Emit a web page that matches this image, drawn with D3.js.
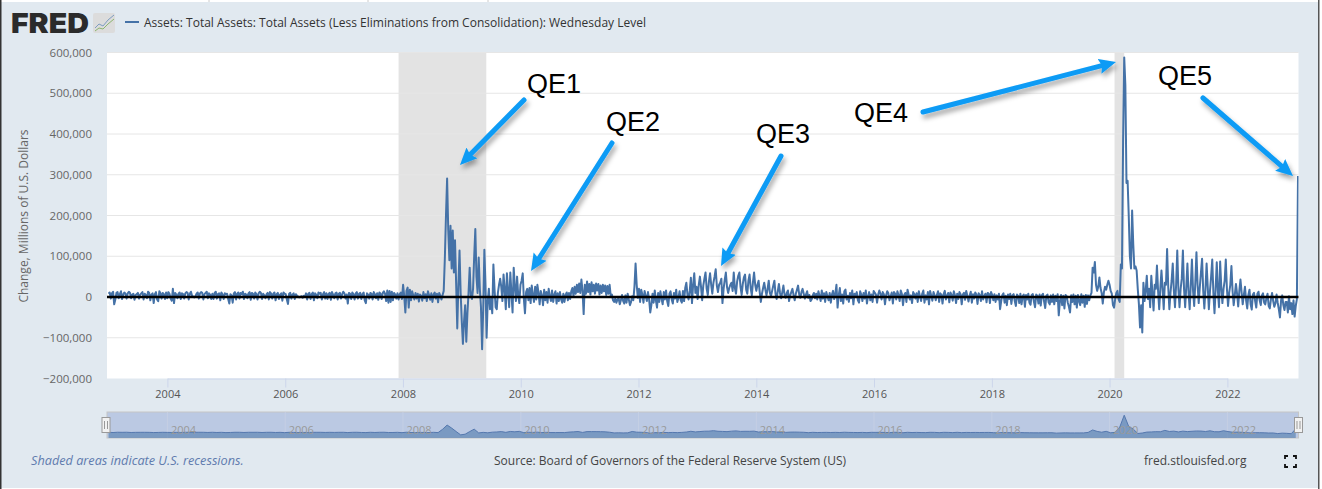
<!DOCTYPE html>
<html>
<head>
<meta charset="utf-8">
<script src="https://cdn.jsdelivr.net/npm/d3@7"></script>
<style>
html, body { margin: 0; padding: 0; background: #fff; overflow: hidden; }
text { font-family: "Open Sans", sans-serif; }
</style>
</head>
<body>
<div id="chart"></div>
<script>
// weekly change, billions of dollars
var w2003 = [8,11,-4,9,13,-18,-6,10,12,-3,7,14,-5,6,11,8,-4,9,13,10,-3,6,8,-7,5,7,10,-4,6,9,12,-6,8,5,-3,13,10,-8,6,9,-15,7,12,-6,-10,14,9,-4,10,7,-5,11,-3];
var w2004 = [12,8,-4,-9,20,-15,10,6,-3,8,11,-5,9,7,-4,9,12,10,-6,8,13,3,1,-1,2,8,11,-4,9,12,10,-6,7,10,13,-3,9,6,-5,8,-5,10,13,-4,7,9,-8,11,6,-5,9,7];
var w2005 = [8,-5,-16,7,4,-14,9,12,-6,8,11,-4,10,7,13,-5,8,6,-3,9,12,-7,10,8,-4,11,7,-6,9,13,10,-5,8,4,-3,7,10,-6,12,9,-4,8,11,-8,7,10,-5,6,9,-9,11,8];
var w2006 = [7,-6,-17,8,10,-4,6,9,-5,7,3,1,-1,0,2,-2,3,1,9,-6,8,10,-5,7,11,-8,9,6,-3,11,8,10,-6,7,12,-4,9,-5,8,10,-7,12,6,-3,9,11,-6,8,10,-4,7,13];
var w2007 = [9,-4,6,-16,10,8,-5,11,7,-6,9,12,-4,8,10,-5,7,11,-8,-15,9,6,-4,10,8,-6,12,7,-3,9,-7,11,8,-5,10,14,8,-10,16,-14,15,-12,13,-8,10,6,-4,9,-6,7,11,-5];
var w2008 = [30,2,-38,15,23,-26,18,-8,14,4,-6,10,-4,8,-11,6,3,-9,12,-3,7,-10,14,5,-7,9,-12,6,11,-4,8,-13,10,3,-6,5,15,95,200,291,165,90,175,70,163,60,139,33,-77,30,114,10,-60];
var w2009 = [-115,-60,-20,-110,-40,10,72,5,-5,20,100,167,50,10,97,20,-25,-128,-30,116,30,-100,-10,20,-30,-5,-40,80,20,-25,-30,10,30,45,25,-10,55,20,-30,58,15,-25,60,10,-38,72,25,-10,50,5,-15,30];
var w2010 = [40,58,-5,-40,12,20,-8,22,-15,28,5,-12,25,-6,30,10,-18,15,4,-20,18,-8,12,-14,20,2,-10,16,-12,6,14,-16,9,-10,12,-6,-14,8,-12,5,11,-8,10,-5,14,22,2,25,8,30,12,33];
var w2011 = [10,43,15,-42,30,8,38,12,32,6,36,14,30,8,33,16,32,6,28,10,30,14,28,5,27,8,30,2,6,-8,-12,-4,-14,-6,-3,-18,-8,5,-10,-16,4,-14,8,-6,-20,-12,2,-8,25,82,30,-2];
var w2012 = [20,-12,18,6,-14,15,2,-10,12,-6,-38,-20,8,-14,16,-8,-26,10,-12,14,-4,-18,12,-6,16,-10,-22,8,14,-6,-16,10,-4,18,-12,-2,14,-8,-14,15,-10,22,35,5,-6,15,47,-15,30,58,10,25];
var w2013 = [-5,30,50,25,-8,28,45,60,20,5,38,58,30,8,35,50,68,28,12,30,35,45,-15,20,42,60,25,10,22,30,35,15,60,22,8,38,52,60,25,5,32,48,55,18,8,40,55,22,4,36,60,30];
var w2014 = [15,30,40,12,-12,8,22,35,18,4,20,40,10,2,15,28,40,8,-5,14,32,10,-3,12,28,6,-2,10,16,-10,4,12,20,5,-8,8,18,28,6,-2,12,20,8,-4,6,14,-2,5,-10,-6,4,10,-3];
var w2015 = [8,-6,14,3,-10,16,-4,9,-12,12,2,-8,10,-14,6,15,-5,8,30,-26,4,22,-10,6,-16,14,18,-6,3,-12,10,-3,16,-18,8,4,12,-8,-14,14,6,-10,10,-4,16,-16,2,12,-8,6,-12,15];
var w2016 = [10,6,-14,6,16,8,-6,12,7,-18,4,14,9,-8,2,11,-16,12,8,-6,14,5,-10,16,7,-20,5,10,-12,18,6,-6,4,-15,12,7,-4,9,-12,14,2,-10,8,16,-14,4,-6,12,-18,15,3,-9];
var w2017 = [12,4,-8,5,14,-12,9,6,-16,7,15,-6,3,10,-13,11,5,-9,14,4,-15,8,-5,12,7,-18,6,10,-7,15,3,-11,3,13,-14,7,-4,11,6,-17,9,5,-10,14,-6,2,8,-13,10,8,-15,12];
var w2018 = [5,-8,7,-12,4,-6,8,-30,-10,5,9,-14,3,-20,6,-5,8,-17,4,7,-10,-22,6,2,-15,8,-18,2,6,-24,5,-6,8,-14,-19,5,7,-12,-25,6,3,-16,6,-21,4,8,-11,-27,3,6,-13,-18];
var w2019 = [4,-12,6,-18,3,-10,7,-45,-10,5,-20,3,-28,5,2,-14,-24,-38,4,-12,6,-18,3,-26,5,-10,-20,7,-14,3,-24,5,-17,4,-8,4,10,72,60,86,30,15,25,48,22,10,-16,12,25,18,30,40];
var w2020 = [30,15,8,-20,-26,-5,10,15,-5,-12,80,70,380,588,520,280,285,200,100,70,212,130,70,75,65,20,-17,-75,-20,-87,35,-10,15,52,-5,20,-25,52,10,-33,30,20,77,15,-30,20,65,20,-30,35,30,118,25];
var w2021 = [-30,10,40,82,15,-25,30,114,20,-25,20,45,114,20,-25,25,82,10,-30,30,92,15,-22,35,110,30,-15,25,60,94,15,-28,20,82,25,-30,15,50,92,10,-40,20,85,15,-25,87,25,-15,20,40,92,20];
var w2022 = [-22,10,30,76,15,-20,5,32,8,-23,15,43,12,-18,5,25,-8,-28,5,18,-18,-31,6,10,-10,-26,8,13,-8,-20,4,9,-14,-18,-2,8,-22,-28,-6,10,-10,-24,-15,6,-14,-30,-50,-8,4,-20,-32,-12];
var w2023 = [-12,-38,2,-30,-15,-42,-8,-48,-22,-5,297];

var years = [2003,2004,2005,2006,2007,2008,2009,2010,2011,2012,2013,2014,2015,2016,2017,2018,2019,2020,2021,2022,2023];
var yearValues = [w2003,w2004,w2005,w2006,w2007,w2008,w2009,w2010,w2011,w2012,w2013,w2014,w2015,w2016,w2017,w2018,w2019,w2020,w2021,w2022,w2023];

var yTicks = [-200000,-100000,0,100000,200000,300000,400000,500000,600000];
var xTickYears = [2004,2006,2008,2010,2012,2014,2016,2018,2020,2022];
var recessions = [["2007-12-05","2009-06-01"],["2020-02-01","2020-04-01"]];
var labels = ["QE1","QE2","QE3","QE4","QE5"];

var parseDay = d3.timeParse("%Y-%m-%d");

// every year starts on its first wednesday
var data = [];
years.forEach(function(y, n){
  var first = d3.timeWednesday.ceil(new Date(y, 0, 1));
  yearValues[n].forEach(function(v, i){
    data.push({date: d3.timeWednesday.offset(first, i), value: v * 1000});
  });
});

var width = 1322, height = 489;
var left = 107, right = 1298.5, top_ = 52.5, bottom = 378.5;

var x = d3.scaleTime()
  .domain([new Date(2004,0,1), new Date(2022,0,1)])
  .range([167.4, 1227.4]);
var y = d3.scaleLinear().domain([-200000,600000]).range([bottom, top_]);

var svg = d3.select("#chart").append("svg")
  .attr("width", width)
  .attr("height", height)
  .style("display", "block");

var defs = svg.append("defs");
defs.append("clipPath").attr("id", "plot")
  .append("rect").attr("x", left).attr("y", top_ - 1).attr("width", right - left).attr("height", bottom - top_ + 1);
defs.append("clipPath").attr("id", "nav")
  .append("rect").attr("x", left).attr("y", 412).attr("width", right - left).attr("height", 26);
var shadow = defs.append("filter").attr("id", "shadow")
  .attr("x", "-30%").attr("y", "-30%").attr("width", "160%").attr("height", "160%");
shadow.append("feDropShadow").attr("dx", 2).attr("dy", 4).attr("stdDeviation", 2.5)
  .attr("flood-color", "#000").attr("flood-opacity", 0.35);
var head = defs.append("marker").attr("id", "head")
  .attr("viewBox", "0 0 10 10").attr("refX", 2).attr("refY", 5)
  .attr("markerUnits", "userSpaceOnUse").attr("markerWidth", 17).attr("markerHeight", 17)
  .attr("orient", "auto");
head.append("path").attr("d", "M0,0.5L10,5L0,9.5L1.5,5Z").attr("fill", "#0a9bf5");

// page frame
svg.append("rect").attr("x", 1).attr("y", 2).attr("width", 1317).attr("height", 486).attr("fill", "#e1e9f0");
svg.append("rect").attr("x", 0).attr("y", 0).attr("width", 1.5).attr("height", height).attr("fill", "#333");
svg.append("rect").attr("x", 1318).attr("y", 0).attr("width", 1.5).attr("height", height).attr("fill", "#555");
[209,368,488].forEach(function(px){
  svg.append("line").attr("x1", px).attr("x2", px).attr("y1", 0).attr("y2", 2).attr("stroke", "#ccc");
});

// logo
svg.append("text").attr("x", 11).attr("y", 33)
  .attr("textLength", 78).attr("lengthAdjust", "spacingAndGlyphs")
  .style("font-family", "Inter").style("font-weight", 900).style("font-size", "27.5px")
  .attr("fill", "#2b2b2b").text("FRED");
svg.append("rect").attr("x", 93).attr("y", 13).attr("width", 22).attr("height", 20).attr("rx", 2).attr("fill", "#dcdcdc");
svg.append("path").attr("d", "M95,28L99,24L103,26L108,20L114,15").attr("fill", "none").attr("stroke", "#7d9cc0").attr("stroke-width", 1);
svg.append("path").attr("d", "M95,31L99,28L103,29L108,24L114,19").attr("fill", "none").attr("stroke", "#8cb56f").attr("stroke-width", 1);

// legend
svg.append("line").attr("x1", 125).attr("x2", 139).attr("y1", 22).attr("y2", 22).attr("stroke", "#4572a7").attr("stroke-width", 2);
svg.append("text").attr("x", 144).attr("y", 26.5)
  .attr("textLength", 502).attr("lengthAdjust", "spacingAndGlyphs")
  .style("font-size", "12.5px").attr("fill", "#333")
  .text("Assets: Total Assets: Total Assets (Less Eliminations from Consolidation): Wednesday Level");

// plot background and recessions
svg.append("rect").attr("x", left).attr("y", top_).attr("width", right - left).attr("height", bottom - top_).attr("fill", "#fff");
svg.append("g").attr("clip-path", "url(#plot)").selectAll("rect").data(recessions).enter().append("rect")
  .attr("x", function(d){ return x(parseDay(d[0])); })
  .attr("width", function(d){ return x(parseDay(d[1])) - x(parseDay(d[0])); })
  .attr("y", top_).attr("height", bottom - top_)
  .attr("fill", "#e3e3e3");

// grid
svg.append("g").selectAll("line").data(yTicks.slice(1)).enter().append("line")
  .attr("x1", left).attr("x2", right)
  .attr("y1", function(d){ return y(d); }).attr("y2", function(d){ return y(d); })
  .attr("stroke", "#e6e6e6");

// axes
var yAxis = svg.append("g").attr("transform", "translate(96,0)")
  .call(d3.axisLeft(y).tickValues(yTicks).tickFormat(d3.format(",")).tickSize(0).tickPadding(4));
yAxis.select(".domain").remove();
yAxis.selectAll("text").style("font-size", "11.5px").style("font-family", "Open Sans").attr("fill", "#666");

var xAxis = svg.append("g").attr("transform", "translate(0," + bottom + ")")
  .call(d3.axisBottom(x).tickValues(xTickYears.map(function(d){ return new Date(d,0,1); }))
    .tickFormat(d3.timeFormat("%Y")).tickSize(9).tickPadding(3).tickSizeOuter(0));
xAxis.select(".domain").attr("stroke", "#ccd6eb");
xAxis.selectAll(".tick line").attr("stroke", "#ccd6eb");
xAxis.selectAll("text").style("font-size", "11px").style("font-family", "Open Sans").attr("fill", "#555");

svg.append("text")
  .attr("transform", "translate(28,216) rotate(-90)")
  .attr("text-anchor", "middle")
  .style("font-size", "12px").attr("fill", "#666")
  .text("Change, Millions of U.S. Dollars");

// series
var line = d3.line().x(function(d){ return x(d.date); }).y(function(d){ return y(d.value); });
svg.append("path").datum(data)
  .attr("clip-path", "url(#plot)")
  .attr("d", line)
  .attr("fill", "none")
  .attr("stroke", "#4572a7")
  .attr("stroke-width", 2)
  .attr("stroke-linejoin", "round");

// zero line
svg.append("line").attr("x1", left).attr("x2", right).attr("y1", y(0)).attr("y2", y(0))
  .attr("stroke", "#000").attr("stroke-width", 2.5);

// navigator, data grouped per 4 weeks
var grouped = d3.range(0, data.length, 4).map(function(i){
  var part = data.slice(i, i + 4);
  return {date: part[0].date, value: d3.mean(part, function(d){ return d.value; })};
});
var navY = d3.scaleLinear().domain([-120000, 460000]).range([437.5, 413.5]);
var nav = svg.append("g");
nav.append("rect").attr("x", left).attr("y", 412).attr("width", right - left).attr("height", 26)
  .attr("fill", "#bbc9e3").attr("stroke", "#c6c6c6");
var navG = nav.append("g").attr("clip-path", "url(#nav)");
navG.selectAll("line").data(xTickYears).enter().append("line")
  .attr("x1", function(d){ return x(new Date(d,0,1)); })
  .attr("x2", function(d){ return x(new Date(d,0,1)); })
  .attr("y1", 412).attr("y2", 438)
  .attr("stroke", "#c5cfe4");
navG.append("path").datum(grouped)
  .attr("d", d3.area().x(function(d){ return x(d.date); }).y0(438).y1(function(d){ return navY(d.value); }))
  .attr("fill", "#4572a7").attr("fill-opacity", 0.55);
navG.append("path").datum(grouped)
  .attr("d", d3.line().x(function(d){ return x(d.date); }).y(function(d){ return navY(d.value); }))
  .attr("fill", "none").attr("stroke", "#5578ae").attr("stroke-width", 1);
nav.selectAll("text").data(xTickYears).enter().append("text")
  .attr("x", function(d){ return x(new Date(d,0,1)) + 3.5; })
  .attr("y", 434)
  .style("font-size", "11px").attr("fill", "#999")
  .text(function(d){ return d; });
[left - 1, right].forEach(function(px){
  var h = nav.append("g").attr("transform", "translate(" + px + ",0)");
  h.append("rect").attr("x", -4).attr("y", 417.5).attr("width", 8).attr("height", 15).attr("fill", "#f2f2f2").attr("stroke", "#999");
  h.append("line").attr("x1", -1.5).attr("x2", -1.5).attr("y1", 421).attr("y2", 429).attr("stroke", "#999");
  h.append("line").attr("x1", 1.5).attr("x2", 1.5).attr("y1", 421).attr("y2", 429).attr("stroke", "#999");
});

// footer
svg.append("text").attr("x", 31).attr("y", 465)
  .style("font-size", "12.7px").style("font-style", "italic").attr("fill", "#5f7bae")
  .text("Shaded areas indicate U.S. recessions.");
svg.append("text").attr("x", 494).attr("y", 465)
  .style("font-size", "12px").attr("fill", "#444")
  .text("Source: Board of Governors of the Federal Reserve System (US)");
svg.append("text").attr("x", 1144).attr("y", 465)
  .style("font-size", "12px").attr("fill", "#444")
  .text("fred.stlouisfed.org");
svg.append("path")
  .attr("d", "M1285,459V456H1288M1293,456H1296V459M1296,464V467H1293M1288,467H1285V464")
  .attr("fill", "none").attr("stroke", "#111").attr("stroke-width", 1.8);

// hand drawn annotations
var labelSpots = [[527,93],[606,131],[756,143],[854,122],[1158,85]];
svg.append("g").selectAll("text").data(labels).enter().append("text")
  .attr("x", function(d, i){ return labelSpots[i][0]; })
  .attr("y", function(d, i){ return labelSpots[i][1]; })
  .style("font-family", "Liberation Sans").style("font-size", "27px").attr("fill", "#000")
  .text(function(d){ return d; });

// shaft stops short of the tip so the head alone makes the point
var arrows = [[524,100,460,165],[612,143,531,271],[781,156,721,266],[923,112,1116,62],[1203,98,1293,176]];
function shaftEnd(d){
  var len = Math.hypot(d[2] - d[0], d[3] - d[1]), back = 13.6;
  return [d[2] - (d[2] - d[0]) / len * back, d[3] - (d[3] - d[1]) / len * back];
}
svg.append("g").attr("filter", "url(#shadow)").selectAll("line").data(arrows).enter().append("line")
  .attr("x1", function(d){ return d[0]; }).attr("y1", function(d){ return d[1]; })
  .attr("x2", function(d){ return shaftEnd(d)[0]; }).attr("y2", function(d){ return shaftEnd(d)[1]; })
  .attr("stroke", "#0a9bf5").attr("stroke-width", 5).attr("stroke-linecap", "round")
  .attr("marker-end", "url(#head)");
</script>
</body>
</html>
